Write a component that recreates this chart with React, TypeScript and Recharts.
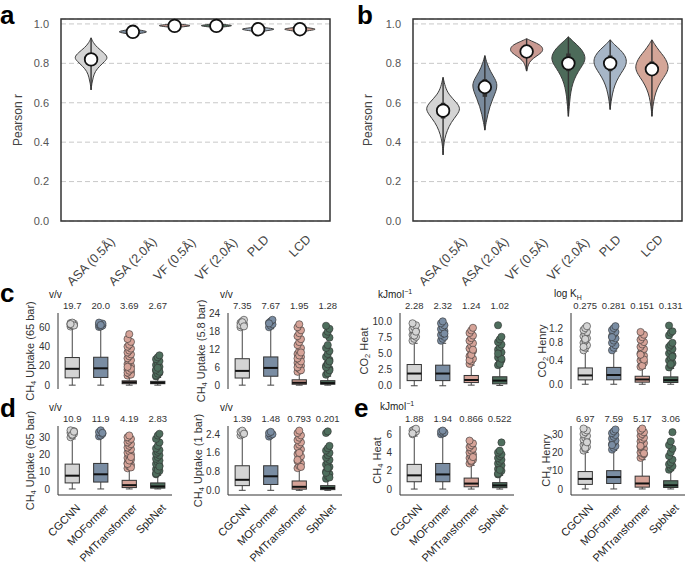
import React from "react";
import { ComposedChart, Scatter, XAxis, YAxis, CartesianGrid, ReferenceArea, Curve } from "recharts";

const FONT = "'Liberation Sans', Arial, Helvetica, sans-serif";

// ---- panels a / b : violins of Pearson r ----
const descriptors = ["ASA (0.5Å)", "ASA (2.0Å)", "VF (0.5Å)", "VF (2.0Å)", "PLD", "LCD"];
const descColors = ["#d4d4d4", "#7a8b9d", "#c99a92", "#4d6b5a", "#a7b6c7", "#d4a698"];

const medianA = [0.82, 0.96, 0.99, 0.99, 0.973, 0.973];
const medianB = [0.56, 0.68, 0.86, 0.8, 0.8, 0.77];

// density outline: [r, half width in category units], top to bottom
const shapeA = [
  [[0.93, 0], [0.905, 0.05], [0.88, 0.15], [0.855, 0.3], [0.83, 0.41], [0.81, 0.33], [0.785, 0.2], [0.76, 0.1], [0.73, 0.05], [0.7, 0.02], [0.665, 0]],
  [[0.975, 0], [0.967, 0.22], [0.96, 0.38], [0.953, 0.22], [0.945, 0]],
  [[1.0, 0], [0.996, 0.26], [0.991, 0.43], [0.986, 0.22], [0.98, 0]],
  [[1.0, 0], [0.996, 0.26], [0.991, 0.42], [0.986, 0.22], [0.98, 0]],
  [[0.985, 0], [0.979, 0.26], [0.973, 0.44], [0.967, 0.24], [0.958, 0]],
  [[0.985, 0], [0.979, 0.26], [0.973, 0.42], [0.967, 0.24], [0.958, 0]],
];
const shapeB = [
  [[0.73, 0], [0.68, 0.05], [0.64, 0.14], [0.6, 0.33], [0.57, 0.42], [0.54, 0.34], [0.5, 0.19], [0.46, 0.1], [0.42, 0.04], [0.38, 0.012], [0.335, 0]],
  [[0.84, 0], [0.8, 0.05], [0.76, 0.13], [0.72, 0.25], [0.69, 0.3], [0.66, 0.27], [0.62, 0.19], [0.58, 0.12], [0.54, 0.07], [0.5, 0.03], [0.46, 0]],
  [[0.925, 0], [0.91, 0.15], [0.895, 0.32], [0.875, 0.4], [0.855, 0.37], [0.835, 0.22], [0.815, 0.1], [0.795, 0.04], [0.76, 0]],
  [[0.935, 0], [0.91, 0.12], [0.88, 0.28], [0.85, 0.38], [0.82, 0.41], [0.79, 0.34], [0.76, 0.24], [0.72, 0.14], [0.68, 0.08], [0.63, 0.04], [0.58, 0.02], [0.53, 0]],
  [[0.92, 0], [0.895, 0.1], [0.87, 0.24], [0.84, 0.36], [0.81, 0.4], [0.78, 0.36], [0.75, 0.26], [0.71, 0.15], [0.67, 0.08], [0.62, 0.03], [0.565, 0]],
  [[0.92, 0], [0.895, 0.07], [0.865, 0.17], [0.835, 0.29], [0.805, 0.37], [0.775, 0.4], [0.745, 0.34], [0.71, 0.22], [0.67, 0.12], [0.63, 0.06], [0.58, 0.02], [0.53, 0]],
];
const whiskA = [[0.665, 0.93], [0.945, 0.975], [0.98, 1.0], [0.98, 1.0], [0.958, 0.985], [0.958, 0.985]];
const iqrA = [[0.8, 0.85], [0.955, 0.965], [0.988, 0.996], [0.988, 0.996], [0.968, 0.977], [0.968, 0.977]];
const whiskB = [[0.335, 0.73], [0.46, 0.84], [0.76, 0.925], [0.53, 0.935], [0.565, 0.92], [0.53, 0.92]];
const iqrB = [[0.52, 0.6], [0.63, 0.72], [0.84, 0.88], [0.76, 0.85], [0.76, 0.84], [0.74, 0.81]];
const rTicks = [0, 0.2, 0.4, 0.6, 0.8, 1.0];

// ---- panels c / d / e : box plots ----
const models = ["CGCNN", "MOFormer", "PMTransformer", "SpbNet"];
const modelColors = ["#d4d4d4", "#7a8da3", "#d6a398", "#4e6e5d"];

// [whisker low, q1, median, q3, whisker high]
const c1Stats = [[0, 7.6, 17, 28.7, 60], [0, 8, 17.5, 29, 60], [0, 1.5, 3, 4.5, 9], [0, 1.5, 2.5, 4, 8]];
const c1Out = [
  [61, 62, 62.5, 63, 63.5, 64, 64.5, 65, 62, 63.5],
  [60.5, 61, 62, 63, 63.5, 64, 65, 62.5],
  [10, 12, 14, 16, 18, 20, 22, 24, 26, 28, 30, 32, 34, 36, 38, 40, 42, 45, 48, 53, 11, 13, 15, 17, 19],
  [9, 11, 13, 15, 17, 19, 21, 23, 25, 27, 29, 31, 10, 12, 14, 16, 18],
];
const c1Scores = ["19.7", "20.0", "3.69", "2.67"];

const c2Stats = [[0, 2.4, 4.8, 8.9, 19], [0, 3, 5.8, 9.5, 19], [0, 0.3, 0.8, 1.8, 4], [0, 0.3, 0.7, 1.5, 3]];
const c2Out = [
  [19.5, 20, 20.5, 21, 21.5, 22, 20.2, 21.2, 19.8],
  [19.5, 20, 20.5, 21, 21.5, 22, 20.8],
  [4.5, 5.5, 6.5, 7.5, 8.5, 9.5, 10.5, 11.5, 12.5, 13.5, 14.5, 15.5, 16.5, 17.5, 18.5, 19.5, 20.5, 5, 6, 7, 8, 9, 10, 11],
  [3.5, 4.5, 5.5, 6.5, 7.5, 8.5, 9.5, 10.5, 11.5, 12.5, 13.5, 16, 17, 18, 19, 20, 4, 5, 6, 7, 8],
];
const c2Scores = ["7.35", "7.67", "1.95", "1.28"];

const c3Stats = [[0, 0.8, 1.9, 3.3, 6.6], [0, 0.8, 1.9, 3.2, 6.6], [0.1, 0.5, 0.9, 1.6, 3.2], [0.05, 0.3, 0.8, 1.4, 3.0]];
const c3Out = [
  [7, 7.3, 7.6, 7.9, 8.2, 8.5, 8.8, 9.1, 9.4, 9.7, 7.8, 8.4],
  [7, 7.3, 7.6, 7.9, 8.2, 8.5, 8.8, 9.1, 9.4, 9.7, 10, 8.1],
  [3.4, 3.8, 4.2, 4.6, 5, 5.4, 5.8, 6.2, 6.6, 7, 7.4, 7.8, 8.2, 8.6, 9, 4, 4.8, 5.6],
  [3.2, 3.6, 4, 4.4, 4.8, 5.2, 5.6, 6, 6.4, 6.8, 7.2, 7.6, 9.4, 3.4, 4.2, 5],
];
const c3Scores = ["2.28", "2.32", "1.24", "1.02"];

const c4Stats = [[0, 0.064, 0.133, 0.26, 0.6], [0, 0.065, 0.14, 0.27, 0.6], [0, 0.03, 0.07, 0.12, 0.25], [0, 0.025, 0.06, 0.11, 0.25]];
const c4Out = [
  [0.62, 0.68, 0.74, 0.8, 0.86, 0.92, 0.98, 1.04, 1.1, 1.16, 1.22, 1.28, 0.7, 0.9],
  [0.62, 0.68, 0.74, 0.8, 0.86, 0.92, 0.98, 1.04, 1.1, 1.16, 1.22, 1.28, 0.95],
  [0.28, 0.32, 0.36, 0.4, 0.45, 0.5, 0.55, 0.6, 0.65, 0.7, 0.76, 0.82, 0.88, 0.95, 1.02, 1.1, 0.3, 0.42, 0.52],
  [0.27, 0.31, 0.35, 0.4, 0.45, 0.5, 0.55, 0.6, 0.65, 0.7, 0.75, 0.8, 1.0, 1.08, 1.12, 1.3, 0.33, 0.48],
];
const c4Scores = ["0.275", "0.281", "0.151", "0.131"];

const d1Stats = [[0, 3.5, 7.7, 14.4, 29], [0, 4, 8.5, 14.8, 30], [0, 0.8, 2.2, 5, 11], [0, 0.5, 1.5, 3.5, 8]];
const d1Out = [
  [30, 31, 32, 32.5, 33, 33.5, 34, 31.5, 33.2],
  [30.5, 31, 32, 33, 34, 32.5],
  [12, 13, 14, 15, 16, 17, 18, 19, 20, 21, 22, 23, 24, 25, 26, 27, 28, 29, 30, 31, 12.5, 14.5, 16.5, 18.5],
  [8.5, 9.5, 10.5, 11.5, 12.5, 13.5, 14.5, 15.5, 16.5, 17.5, 18.5, 19.5, 20.5, 21.5, 22.5, 23.5, 25, 27, 29, 31, 32, 9, 11, 13],
];
const d1Scores = ["10.9", "11.9", "4.19", "2.83"];

const d2Stats = [[0, 0.2, 0.45, 1.05, 2.3], [0, 0.25, 0.6, 1.05, 2.3], [0, 0.05, 0.15, 0.4, 0.9], [0, 0.03, 0.1, 0.2, 0.45]];
const d2Out = [
  [2.35, 2.4, 2.45, 2.5, 2.55, 2.42],
  [2.3, 2.35, 2.4, 2.45, 2.5],
  [0.95, 1.05, 1.15, 1.25, 1.35, 1.45, 1.55, 1.65, 1.75, 1.85, 1.95, 2.05, 2.15, 2.25, 2.35, 2.45, 2.55, 1.0, 1.3, 1.6],
  [0.5, 0.6, 0.7, 0.8, 0.9, 1.0, 1.1, 1.2, 1.3, 1.4, 1.5, 1.6, 1.7, 1.8, 1.9, 2.45, 2.52, 0.55, 0.75, 0.95],
];
const d2Scores = ["1.39", "1.48", "0.793", "0.201"];

const e1Stats = [[0, 0.8, 1.5, 2.7, 5.8], [0, 0.8, 1.6, 2.8, 5.8], [0, 0.25, 0.6, 1.2, 2.6], [0, 0.15, 0.4, 0.7, 1.5]];
const e1Out = [
  [6, 6.2, 6.3, 6.4, 6.5, 6.6, 6.1],
  [6, 6.1, 6.2, 6.3, 6.4],
  [2.8, 3.0, 3.2, 3.4, 3.6, 3.8, 4.0, 4.2, 4.4, 4.6, 4.8, 5.0, 5.3, 3.1, 3.5],
  [1.6, 1.8, 2.0, 2.2, 2.4, 2.6, 2.8, 3.0, 3.2, 3.4, 3.6, 3.8, 4.0, 4.2, 5.1, 1.7, 2.1],
];
const e1Scores = ["1.88", "1.94", "0.866", "0.522"];

const e2Stats = [[0, 2.5, 5.5, 9.5, 20], [0, 3, 6.5, 10, 21], [0, 1, 3, 7, 16], [0, 0.8, 2, 4.5, 10]];
const e2Out = [
  [21, 22, 23, 24, 25, 26, 27, 28, 29, 30, 31, 32, 33, 22.5, 25.5],
  [21.5, 22.5, 23.5, 24.5, 25.5, 26.5, 27.5, 28.5, 29.5, 30.5, 31.5, 32.5, 24],
  [17, 18, 19, 20, 21, 22, 23, 24, 25, 26, 27, 28, 29, 30, 31, 32, 33, 19.5, 23.5],
  [10.5, 11.5, 12.5, 13.5, 14.5, 16, 18, 20, 22, 24, 26, 31],
];
const e2Scores = ["6.97", "7.59", "5.17", "3.06"];

// ---- helpers ----
const none = () => <g />;

// draws the scatter's own pixel points two by two as line segments
const segments = (color: string, width: number) => (p: any) => {
  const pts = p.points || [];
  const out = [];
  for (let k = 0; k + 1 < pts.length; k += 2) {
    out.push(<line key={k} x1={pts[k].x} y1={pts[k].y} x2={pts[k + 1].x} y2={pts[k + 1].y} stroke={color} strokeWidth={width} />);
  }
  return <g>{out}</g>;
};

const rects = (p: any) => {
  const pts = p.points || [];
  const out = [];
  for (let k = 0; k + 1 < pts.length; k += 2) {
    const a = pts[k], b = pts[k + 1];
    out.push(
      <rect key={k} x={Math.min(a.x, b.x)} y={Math.min(a.y, b.y)} width={Math.abs(b.x - a.x)} height={Math.abs(b.y - a.y)}
        fill={modelColors[k / 2]} stroke="#333" strokeWidth={1} />
    );
  }
  return <g>{out}</g>;
};

function outline(center: number, knots: number[][]) {
  const right = knots.map(([y, w]) => ({ x: center + w, y }));
  const left = knots.slice().reverse().map(([y, w]) => ({ x: center - w, y }));
  return [...right, ...left];
}

function ViolinPanel({ left, chartW, plotLeft, shapes, medians, whisk, iqr, labelX }: any) {
  const top = 19, plotH = 202, yW = 40;
  const margin = { top, left: plotLeft - left - yW, right: left + chartW - (plotLeft + 269), bottom: 9 };
  const whiskPts = whisk.flatMap((w: number[], i: number) => [{ x: i, y: w[0] }, { x: i, y: w[1] }]);
  const iqrPts = iqr.flatMap((w: number[], i: number) => [{ x: i, y: w[0] }, { x: i, y: w[1] }]);
  const medPts = medians.map((m: number, i: number) => ({ x: i, y: m }));
  const tick = (p: any) => {
    const label = descriptors[p.payload.value];
    // rotated label hangs below the frame, centred on its tick
    const cy = top + plotH + 14 + 0.3535 * (label.length * 6.3 + 12.5);
    return (
      <text x={p.x} y={cy} textAnchor="middle" dominantBaseline="central" transform={`rotate(-45 ${p.x} ${cy})`}
        fontSize={12.5} fill="#444" fontFamily={FONT}>{label}</text>
    );
  };
  return (
    <div style={{ position: "absolute", left, top: 0 }}>
      <ComposedChart width={chartW} height={290} margin={margin}>
        <CartesianGrid vertical={false} strokeDasharray="5 3" stroke="#c8c8c8" />
        <XAxis type="number" dataKey="x" domain={[-0.72, 5.72]} ticks={[0, 1, 2, 3, 4, 5]} interval={0}
          height={60} axisLine={false} tickLine={false} tick={tick} />
        <YAxis type="number" dataKey="y" domain={[0, 1.025]} ticks={rTicks} interval={0}
          width={yW} axisLine={false} tickLine={false} tickMargin={6}
          tickFormatter={(v: number) => v.toFixed(1)}
          tick={{ fontSize: 11, fill: "#555", fontFamily: FONT }}
          label={{
            content: () => (
              <text transform={`translate(${labelX},${top + plotH / 2}) rotate(-90)`} textAnchor="middle"
                dominantBaseline="central" fontSize={12} fill="#444" fontFamily={FONT}>Pearson r</text>
            ),
          }} />
        {shapes.map((k: number[][], i: number) => (
          <Scatter key={i} data={outline(i, k)} isAnimationActive={false} shape={none}
            line={(p: any) => <Curve points={p.points} type="basisClosed" fill={descColors[i]} stroke="#3c3c3c" strokeWidth={1} />} />
        ))}
        <Scatter data={whiskPts} isAnimationActive={false} shape={none} line={segments("#333", 1.4)} />
        <Scatter data={iqrPts} isAnimationActive={false} shape={none} line={segments("#333", 4.5)} />
        <Scatter data={medPts} isAnimationActive={false}
          shape={(p: any) => <circle cx={p.cx} cy={p.cy} r={6.3} fill="#fff" stroke="#111" strokeWidth={1.8} />} />
        <ReferenceArea x1={-0.72} x2={5.72} y1={0} y2={1.025} ifOverflow="visible" fill="none" fillOpacity={0}
          stroke="#333" strokeWidth={1.5} />
      </ComposedChart>
    </div>
  );
}

function BoxPanel({ px, py, ph, stats, outs, scores, domain, ticks, digits, scale, ylabel, labelX, showModels }: any) {
  const padTop = 40, padLeft = 95, yW = 30;
  const xh = showModels ? 60 : 0;
  const mb = 32;
  const W = padLeft + 114 + 6;
  const H = padTop + ph + xh + mb;
  const boxPts = stats.flatMap((s: number[], i: number) => [{ x: i - 0.25, y: s[1] }, { x: i + 0.25, y: s[3] }]);
  const whiskPts = stats.flatMap((s: number[], i: number) => [{ x: i, y: s[0] }, { x: i, y: s[1] }, { x: i, y: s[3] }, { x: i, y: s[4] }]);
  const capPts = stats.flatMap((s: number[], i: number) => [
    { x: i - 0.12, y: s[0] }, { x: i + 0.12, y: s[0] }, { x: i - 0.12, y: s[4] }, { x: i + 0.12, y: s[4] },
  ]);
  const medPts = stats.flatMap((s: number[], i: number) => [{ x: i - 0.25, y: s[2] }, { x: i + 0.25, y: s[2] }]);
  // score labels sit just above the top of the axis
  const scorePts = scores.map((s: string, i: number) => ({ x: i, y: domain[1], label: s }));
  const lx = labelX - (px - padLeft);
  const ly = padTop + ph / 2;
  const modelTick = (p: any) => {
    const ax = p.x + 3, ay = padTop + ph + 8;
    return (
      <text x={ax} y={ay} textAnchor="end" dominantBaseline="hanging" transform={`rotate(-45 ${ax} ${ay})`}
        fontSize={11} fill="#222" fontFamily={FONT}>{models[p.payload.value]}</text>
    );
  };
  return (
    <div style={{ position: "absolute", left: px - padLeft, top: py - padTop }}>
      <ComposedChart width={W} height={H} margin={{ top: padTop, right: 6, left: padLeft - yW, bottom: mb }}>
        <XAxis type="number" dataKey="x" domain={[-0.5, 3.5]} ticks={[0, 1, 2, 3]} interval={0}
          height={xh} tickLine={false} axisLine={{ stroke: "#333", strokeWidth: 1 }} tick={showModels ? modelTick : false} />
        <YAxis type="number" dataKey="y" domain={domain} ticks={ticks} interval={0} scale={scale || "linear"}
          width={yW} tickLine={false} axisLine={{ stroke: "#333", strokeWidth: 1 }}
          tick={{ fontSize: 10, fill: "#333", fontFamily: FONT }}
          tickFormatter={(v: number) => (digits ? v.toFixed(digits) : String(v))}
          label={{
            content: () => (
              <text transform={`translate(${lx},${ly}) rotate(-90)`} textAnchor="middle" dominantBaseline="central"
                fontSize={11} fill="#333" fontFamily={FONT}>
                <tspan>{ylabel[0]}</tspan>
                <tspan fontSize={7.5} dy={3}>{ylabel[1]}</tspan>
                <tspan dy={-3}>{ylabel[2]}</tspan>
              </text>
            ),
          }} />
        <Scatter data={whiskPts} isAnimationActive={false} shape={none} line={segments("#444", 1)} />
        <Scatter data={capPts} isAnimationActive={false} shape={none} line={segments("#444", 1)} />
        <Scatter data={boxPts} isAnimationActive={false} shape={none} line={rects} />
        <Scatter data={medPts} isAnimationActive={false} shape={none} line={segments("#111", 2)} />
        {outs.map((vals: number[], i: number) => (
          <Scatter key={i} isAnimationActive={false}
            data={vals.map((v, k) => ({ x: i + ((k % 3) - 1) * 0.06, y: v }))}
            shape={(p: any) => <circle cx={p.cx} cy={p.cy} r={3.6} fill={modelColors[i]} stroke="#333" strokeWidth={0.6} />} />
        ))}
        <Scatter data={scorePts} isAnimationActive={false}
          shape={(p: any) => (
            <text x={p.cx} y={p.cy - 4} textAnchor="middle" fontSize={9.5} fill="#333" fontFamily={FONT}>{p.payload.label}</text>
          )} />
      </ComposedChart>
    </div>
  );
}

const rowC = { py: 313, ph: 76, showModels: false };
const rowD = { py: 426, ph: 69, showModels: true };

export default function App() {
  return (
    <div style={{ position: "absolute", left: 0, top: 0, width: 685, height: 563, background: "#fff", fontFamily: FONT, overflow: "hidden" }}>
      <ViolinPanel left={0} chartW={340} plotLeft={61} shapes={shapeA} medians={medianA} whisk={whiskA} iqr={iqrA} labelX={18} />
      <ViolinPanel left={340} chartW={345} plotLeft={413} shapes={shapeB} medians={medianB} whisk={whiskB} iqr={iqrB} labelX={28} />

      <BoxPanel {...rowC} px={58} stats={c1Stats} outs={c1Out} scores={c1Scores} domain={[-4, 75]} ticks={[0, 20, 40, 60]}
        ylabel={["CH", "4", " Uptake (65 bar)"]} labelX={30} />
      <BoxPanel {...rowC} px={228} stats={c2Stats} outs={c2Out} scores={c2Scores} domain={[-1.3, 24.3]} ticks={[0, 6, 12, 18, 24]}
        ylabel={["CH", "4", " Uptake (5.8 bar)"]} labelX={201} />
      <BoxPanel {...rowC} px={400} stats={c3Stats} outs={c3Out} scores={c3Scores} domain={[-0.5, 11.3]} ticks={[0, 2.5, 5, 7.5, 10]} digits={1}
        ylabel={["CO", "2", " Heat"]} labelX={364} />
      <BoxPanel {...rowC} px={571} stats={c4Stats} outs={c4Out} scores={c4Scores} domain={[-0.07, 1.75]} ticks={[0, 0.4, 0.8, 1.2]} digits={1}
        scale="symlog" ylabel={["CO", "2", " Henry"]} labelX={542} />

      <BoxPanel {...rowD} px={58} stats={d1Stats} outs={d1Out} scores={d1Scores} domain={[-3.5, 36.5]} ticks={[0, 10, 20, 30]}
        ylabel={["CH", "4", " Uptake (65 bar)"]} labelX={30} />
      <BoxPanel {...rowD} px={228} stats={d2Stats} outs={d2Out} scores={d2Scores} domain={[-0.2, 2.75]} ticks={[0, 0.8, 1.6, 2.4]} digits={1}
        ylabel={["CH", "4", " Uptake (1 bar)"]} labelX={198} />
      <BoxPanel {...rowD} px={400} stats={e1Stats} outs={e1Out} scores={e1Scores} domain={[-0.65, 6.9]} ticks={[0, 2, 4, 6]}
        ylabel={["CH", "4", " Heat"]} labelX={377} />
      <BoxPanel {...rowD} px={571} stats={e2Stats} outs={e2Out} scores={e2Scores} domain={[-3.3, 34.4]} ticks={[0, 10, 20, 30]}
        ylabel={["CH", "4", " Henry"]} labelX={546} />

      <svg width={685} height={563} style={{ position: "absolute", left: 0, top: 0, pointerEvents: "none" }} fontFamily={FONT}>
        <g fontSize={26} fontWeight="bold" fill="#000">
          <text x={0} y={24}>a</text>
          <text x={357} y={24}>b</text>
          <text x={0} y={302}>c</text>
          <text x={0} y={417}>d</text>
          <text x={354} y={417}>e</text>
        </g>
        <g fontSize={10} fill="#222">
          <text x={49} y={298}>v/v</text>
          <text x={220} y={298}>v/v</text>
          <text x={378} y={298}>kJmol<tspan fontSize={7} dy={-4}>−1</tspan></text>
          <text x={554} y={297}>log K<tspan fontSize={7} dy={3}>H</tspan></text>
          <text x={49} y={411}>v/v</text>
          <text x={220} y={411}>v/v</text>
          <text x={380} y={410}>kJmol<tspan fontSize={7} dy={-4}>−1</tspan></text>
        </g>
      </svg>
    </div>
  );
}
